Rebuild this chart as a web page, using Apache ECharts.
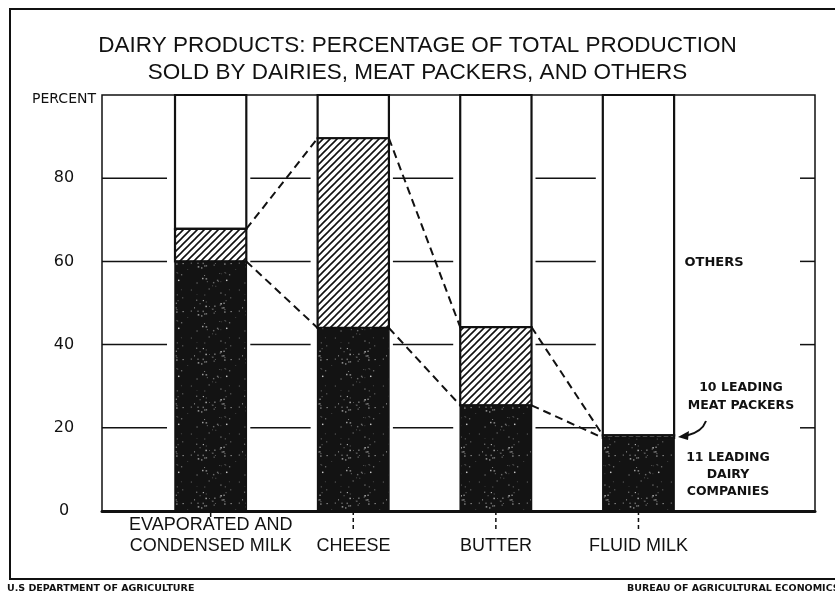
<!DOCTYPE html>
<html>
<head>
<meta charset="utf-8">
<script src="https://cdn.jsdelivr.net/npm/echarts@6.0.0/dist/echarts.min.js"></script>
<style>
html,body{margin:0;padding:0;background:#fff;}
#c{width:835px;height:594px;}
</style>
</head>
<body>
<div id="c"></div>
<script>
// ---- data ----
const categories = ['EVAPORATED AND\nCONDENSED MILK', 'CHEESE', 'BUTTER', 'FLUID MILK'];
const dairyShare = [60, 44, 25.4, 17.6];      // 11 leading dairy companies (dark)
const packerShare = [7.8, 45.6, 18.8, 0.6];   // 10 leading meat packers (hatched)
const gridLevels = [20, 40, 60, 80];
const titleLines = ['DAIRY PRODUCTS: PERCENTAGE OF TOTAL PRODUCTION', 'SOLD BY DAIRIES, MEAT PACKERS, AND OTHERS'];

// ---- textures ----
function makeHatch() {
  const c = document.createElement('canvas');
  const s = 7; c.width = s; c.height = s;
  const g = c.getContext('2d');
  g.fillStyle = '#fff'; g.fillRect(0, 0, s, s);
  g.strokeStyle = '#111'; g.lineWidth = 1.6;
  g.beginPath();
  g.moveTo(-1, s + 1); g.lineTo(s + 1, -1);
  g.moveTo(-1, 1); g.lineTo(1, -1);
  g.moveTo(s - 1, s + 1); g.lineTo(s + 1, s - 1);
  g.stroke();
  return c;
}
function makeSpeckle() {
  const c = document.createElement('canvas');
  const s = 48; c.width = s; c.height = s;
  const g = c.getContext('2d');
  g.fillStyle = '#131313'; g.fillRect(0, 0, s, s);
  let seed = 12345;
  const next = () => { seed = (seed * 1103515245 + 12345) % 2147483648; return seed / 2147483648; };
  for (let i = 0; i < 55; i++) {
    const x = next() * s, y = next() * s, r = 0.6 + next() * 1.0;
    const v = 90 + Math.floor(next() * 130);
    g.fillStyle = 'rgba(' + v + ',' + v + ',' + v + ',0.8)';
    g.fillRect(x, y, r, r);
  }
  return c;
}
const hatchFill = { image: makeHatch(), repeat: 'repeat' };
const darkFill = { image: makeSpeckle(), repeat: 'repeat' };

const BAR_OFF = 0.012, BAR_W = 0.5;
function barLeft(api, i) {
  const bw = api.size([1, 0])[0];
  return api.coord([i, 0])[0] + bw * BAR_OFF;
}

const chart = echarts.init(document.getElementById('c'), null, { renderer: 'canvas' });

const barData = categories.map((c, i) => [i, dairyShare[i], packerShare[i]]);

chart.setOption({
  animation: false,
  backgroundColor: '#fff',
  title: {
    text: titleLines.join('\n'),
    left: 'center',
    top: 32,
    padding: 0,
    textStyle: { fontFamily: 'Liberation Sans', fontSize: 22.5, fontWeight: 'normal', color: '#111', lineHeight: 27 }
  },
  grid: {
    left: 102, right: 20, top: 95, bottom: 83,
    show: true, borderColor: '#111', borderWidth: 1.5, backgroundColor: 'transparent'
  },
  xAxis: {
    type: 'category',
    data: categories.concat(['']),
    axisLine: { show: true, lineStyle: { color: '#111', width: 3 } },
    axisTick: { show: false },
    axisLabel: {
      interval: 0,
      margin: 46,
      verticalAlign: 'bottom',
      formatter: v => v ? v.split('\n').map(s => '{c|' + s + '}').join('\n') : '',
      rich: {
        c: { fontFamily: 'Liberation Sans', fontSize: 18, color: '#111', lineHeight: 21, padding: [0, 0, 0, 75] }
      }
    },
    splitLine: { show: false }
  },
  yAxis: {
    type: 'value', min: 0, max: 100, interval: 20,
    name: 'PERCENT', nameLocation: 'end', nameGap: -11,
    nameTextStyle: { fontFamily: 'DejaVu Sans', fontSize: 14, color: '#111', align: 'right', padding: [0, 6, 0, 0] },
    axisLine: { show: false }, axisTick: { show: false }, splitLine: { show: false },
    axisLabel: {
      margin: 38, align: 'center',
      fontFamily: 'DejaVu Sans', fontSize: 16, color: '#111',
      formatter: v => v === 100 ? '' : String(v)
    }
  },
  series: [
    {
      type: 'custom',
      name: 'gridSegments',
      clip: false,
      z: 1,
      data: gridLevels.map(v => [0, v]),
      renderItem: function (params, api) {
        const lv = api.value(1);
        const cs = params.coordSys;
        const bw = api.size([1, 0])[0];
        const y = api.coord([0, lv])[1];
        const n = categories.length;
        const segs = [[cs.x, barLeft(api, 0) - 8]];
        for (let i = 0; i < n - 1; i++) {
          segs.push([barLeft(api, i) + bw * BAR_W + 4, barLeft(api, i + 1) - 7]);
        }
        segs.push([cs.x + cs.width - 15, cs.x + cs.width]);
        return {
          type: 'group',
          children: segs.map(s => ({
            type: 'line',
            shape: { x1: s[0], y1: y, x2: s[1], y2: y },
            style: { stroke: '#111', lineWidth: 1.5 }
          }))
        };
      }
    },
    {
      type: 'custom',
      name: 'shares',
      clip: false,
      z: 3,
      data: barData,
      renderItem: function (params, api) {
        const i = api.value(0);
        const d = api.value(1);
        const p = api.value(2);
        const bw = api.size([1, 0])[0];
        const w = bw * BAR_W;
        const left = barLeft(api, i);
        const y0 = api.coord([i, 0])[1];
        const yTop = api.coord([i, 100])[1];
        const yD = api.coord([i, d])[1];
        const yP = api.coord([i, d + p])[1];
        const cx = left + w / 2;
        const children = [
          { type: 'rect', shape: { x: left, y: yTop, width: w, height: yP - yTop },
            style: { fill: '#fff', stroke: '#111', lineWidth: 2.2 } },
          { type: 'rect', shape: { x: left, y: yP, width: w, height: yD - yP },
            style: { fill: hatchFill, stroke: '#111', lineWidth: 2.2 } },
          { type: 'rect', shape: { x: left, y: yD, width: w, height: y0 - yD },
            style: { fill: darkFill, stroke: '#111', lineWidth: 1.5 } },
          { type: 'line', shape: { x1: cx, y1: y0, x2: cx, y2: y0 + (i === 0 ? 6 : 19) },
            style: { stroke: '#111', lineWidth: 1.5, lineDash: i === 0 ? null : [4, 3] } }
        ];
        if (i < categories.length - 1) {
          const nl = barLeft(api, i + 1);
          const nd = dairyShare[i + 1], np = packerShare[i + 1];
          const yDn = api.coord([i + 1, nd])[1];
          const yPn = api.coord([i + 1, nd + np])[1];
          children.push({ type: 'line', shape: { x1: left + w, y1: yD, x2: nl, y2: yDn },
            style: { stroke: '#111', lineWidth: 2, lineDash: [8, 5] } });
          children.push({ type: 'line', shape: { x1: left + w, y1: yP, x2: nl, y2: yPn },
            style: { stroke: '#111', lineWidth: 2, lineDash: [8, 5] } });
        }
        return { type: 'group', children: children };
      }
    }
  ],
  graphic: [
    { type: 'rect', z: 0, shape: { x: 10, y: 9, width: 840, height: 570 },
      style: { fill: 'none', stroke: '#111', lineWidth: 2 } },
    { type: 'text', style: { text: 'OTHERS', x: 714, y: 263, textAlign: 'center', textVerticalAlign: 'middle',
      font: 'bold 13px "DejaVu Sans"', fill: '#111' } },
    { type: 'text', style: { text: '10 LEADING\nMEAT PACKERS', x: 741, y: 397, textAlign: 'center', textVerticalAlign: 'middle',
      font: 'bold 12.5px "DejaVu Sans"', fill: '#111', lineHeight: 18 } },
    { type: 'text', style: { text: '11 LEADING\nDAIRY\nCOMPANIES', x: 728, y: 475, textAlign: 'center', textVerticalAlign: 'middle',
      font: 'bold 12.5px "DejaVu Sans"', fill: '#111', lineHeight: 17 } },
    { type: 'bezierCurve', shape: { x1: 706, y1: 421, cpx1: 702, cpy1: 432, x2: 687, y2: 435.5 },
      style: { stroke: '#111', lineWidth: 2, fill: 'none' } },
    { type: 'polygon', shape: { points: [[678, 437], [689, 431], [688, 440]] },
      style: { fill: '#111' } },
    { type: 'text', style: { text: 'U.S DEPARTMENT OF AGRICULTURE', x: 7, y: 589, textAlign: 'left', textVerticalAlign: 'middle',
      font: 'bold 9.5px "DejaVu Sans"', fill: '#111' } },
    { type: 'text', style: { text: 'BUREAU OF AGRICULTURAL ECONOMICS', x: 627, y: 589, textAlign: 'left', textVerticalAlign: 'middle',
      font: 'bold 9.5px "DejaVu Sans"', fill: '#111' } }
  ]
});
</script>
</body>
</html>
